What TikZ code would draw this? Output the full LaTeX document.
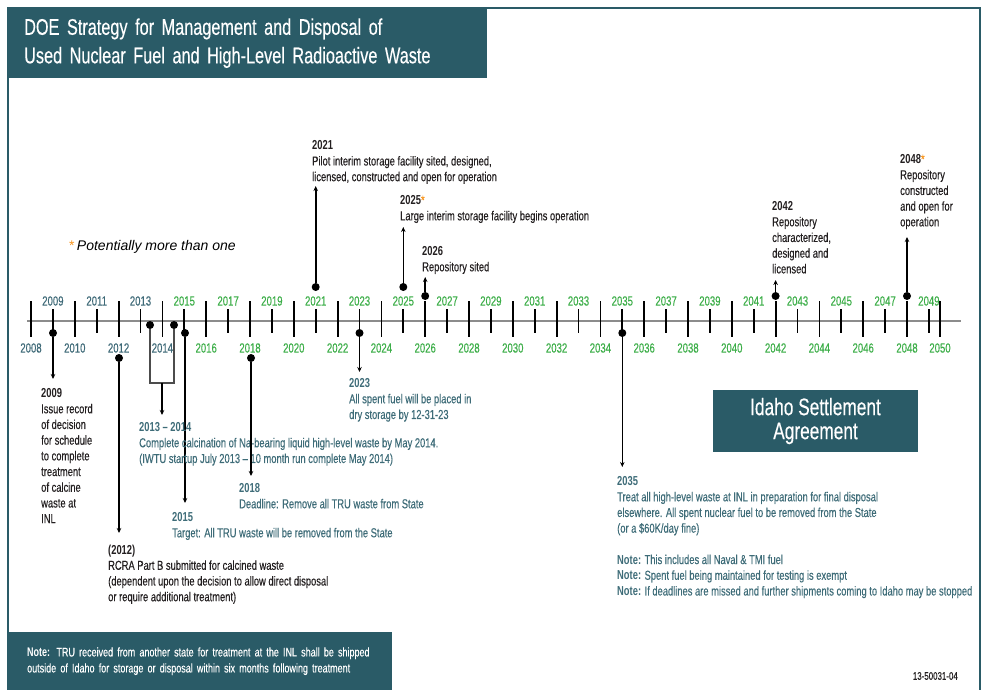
\documentclass[tikz,border=0pt]{standalone}
\usepackage{fontspec}
\setmainfont[FakeStretch=0.72,UprightFeatures={FakeBold=0.3}]{Liberation Sans}
\newfontfamily\plainsans{Liberation Sans}
\usetikzlibrary{arrows.meta}

\definecolor{tealbox}{RGB}{42,91,103}
\definecolor{tealtext}{RGB}{62,108,120}
\definecolor{yeargreen}{RGB}{61,174,73}
\definecolor{yearteal}{RGB}{63,106,120}
\definecolor{axisgray}{RGB}{140,140,140}
\definecolor{starorange}{RGB}{247,148,29}
\definecolor{inkblack}{RGB}{35,31,32}

\newcommand{\strs}{\textcolor{starorange}{*}}
\newcommand{\fsz}[2]{\fontsize{#1}{#2}\selectfont\spaceskip=.2em plus .1em minus .05em\relax}

\begin{document}
\begin{tikzpicture}
		[x=1pt,y=-1pt,
		dot/.style={circle,fill=black,inner sep=0pt,minimum size=8pt},
		stem/.style={line width=1.6pt,-{Stealth[length=5pt,width=4.5pt]}},
		tick/.style={line width=1.8pt},
		yrlabel/.style={inner sep=0pt,font=\fsz{13.3}{15}},
		evtext/.style={anchor=north west,inner sep=0pt,align=left,text=inkblack,font=\fsz{13}{15.7}},
		evteal/.style={evtext,text=tealtext},
		darkbox/.style={fill=tealbox,text=white,inner sep=0pt}]
		\useasboundingbox (0,0) rectangle (982,690);
		
		% frame and title
		\draw[tealbox,line width=1.5pt] (8,690) -- (8,8) -- (980,8) -- (980,690);
		\node[darkbox,anchor=north west,minimum width=479pt,minimum height=70pt,text width=447pt,align=left,font=\fsz{22.6}{28.5}] (title) at (8,8)
		{DOE Strategy for Management and Disposal of\\Used Nuclear Fuel and High-Level Radioactive Waste};
		
		% time line
		\coordinate (tl0) at (27,321);
		\coordinate (tl1) at (961,321);
		\draw[axisgray,line width=2pt] (tl0) -- (tl1);
		\foreach \yr [evaluate=\yr as \tx using {31+(\yr-2008)*21.9}] in {2008,...,2049}{
			\ifnum\yr<2015\relax \def\yc{yearteal}\else \def\yc{yeargreen}\fi
			\ifodd\yr\relax
				\draw[tick] (\tx,309) -- (\tx,333);
				\node[yrlabel,text=\yc] (y\yr) at (\tx,301) {\yr};
			\else
				\draw[tick] (\tx,301) -- (\tx,337);
				\node[yrlabel,text=\yc] (y\yr) at (\tx,348) {\yr};
			\fi
		}
		\draw[tick] (940,301) -- (940,337);
		\node[yrlabel,text=yeargreen] (y2050) at (940,348) {2050};
		
		\node[anchor=west,inner sep=0pt,font=\plainsans\fontsize{14}{16}\selectfont] (pmto) at (69,247) {\textcolor{starorange}{*}\,\textit{Potentially more than one}};
		
		% events above the line
		\node[dot] (d2021) at (315.7,287) {};
		\coordinate (a2021) at (315.7,186);
		\draw[stem] (d2021) -- (a2021);
		\node[evtext] (t2021) at (312,140.5) {\textbf{2021}\\Pilot interim storage facility sited, designed,\\licensed, constructed and open for operation};
		
		\node[dot] (d2025) at (403.3,287) {};
		\coordinate (a2025) at (403.3,227);
		\draw[stem] (d2025) -- (a2025);
		\node[evtext] (t2025) at (400,195.3) {\textbf{2025}\strs\\Large interim storage facility begins operation};
		
		\node[dot] (d2026) at (425.2,296) {};
		\coordinate (a2026) at (425.2,277);
		\draw[stem] (d2026) -- (a2026);
		\node[evtext] (t2026) at (422,246.3) {\textbf{2026}\\Repository sited};
		
		\node[dot] (d2042) at (775.6,296) {};
		\coordinate (a2042) at (775.6,280);
		\draw[stem] (d2042) -- (a2042);
		\node[evtext] (t2042) at (772,201.3) {\textbf{2042}\\Repository\\characterized,\\designed and\\licensed};
		
		\node[dot] (d2048) at (907,296) {};
		\coordinate (a2048) at (907,237);
		\draw[stem] (d2048) -- (a2048);
		\node[evtext] (t2048) at (900,154.3) {\textbf{2048}\strs\\Repository\\constructed\\and open for\\operation};
		
		% events below the line
		\node[dot] (d2009) at (53,333) {};
		\coordinate (a2009) at (53,379);
		\draw[stem] (d2009) -- (a2009);
		\node[evtext] (t2009) at (41,388.3) {\textbf{2009}\\Issue record\\of decision\\for schedule\\to complete\\treatment\\of calcine\\waste at\\INL};
		
		\node[dot] (d2012) at (119,358) {};
		\coordinate (a2012) at (119,533);
		\draw[stem] (d2012) -- (a2012);
		\node[evtext] (t2012) at (108,544.5) {\textbf{(2012)}\\RCRA Part B submitted for calcined waste\\(dependent upon the decision to allow direct disposal\\or require additional treatment)};
		
		\node[dot] (d2013) at (150,325) {};
		\node[dot] (d2014) at (174,325) {};
		\coordinate (b2013) at (150,383);
		\coordinate (b2014) at (174,383);
		\coordinate (bmid) at (162,383);
		\coordinate (a1314) at (162,415);
		\draw[black!70,line width=1.2pt] (d2013) -- (b2013) -- (b2014) -- (d2014);
		\draw[stem] (bmid) -- (a1314);
		
		\node[dot] (d2015) at (185,333) {};
		\coordinate (a2015) at (185,503);
		\draw[stem] (d2015) -- (a2015);
		\node[evteal] (t1314) at (139,422.3) {\textbf{2013 -- 2014}\\Complete calcination of Na-bearing liquid high-level waste by May 2014.\\(IWTU startup July 2013 -- 10 month run complete May 2014)};
		\node[evteal] (t2015) at (172,512.3) {\textbf{2015}\\Target: All TRU waste will be removed from the State};
		
		\node[dot] (d2018) at (251,358) {};
		\coordinate (a2018) at (251,476);
		\draw[stem] (d2018) -- (a2018);
		\node[evteal] (t2018) at (239,483.3) {\textbf{2018}\\Deadline: Remove all TRU waste from State};
		
		\node[dot] (d2023) at (359.5,333) {};
		\coordinate (a2023) at (359.5,372);
		\draw[stem] (d2023) -- (a2023);
		\node[evteal] (t2023) at (349,378.3) {\textbf{2023}\\All spent fuel will be placed in\\dry storage by 12-31-23};
		
		\node[dot] (d2035) at (622.3,333) {};
		\coordinate (a2035) at (622.3,467);
		\draw[stem] (d2035) -- (a2035);
		\node[evteal] (t2035) at (617,476.3) {\textbf{2035}\\Treat all high-level waste at INL in preparation for final disposal\\elsewhere. All spent nuclear fuel to be removed from the State\\(or a \$60K/day fine)\\[15.7pt]\textbf{Note:} This includes all Naval \& TMI fuel\\\textbf{Note:} Spent fuel being maintained for testing is exempt\\\textbf{Note:} If deadlines are missed and further shipments coming to Idaho may be stopped};
		
		% boxes
		\node[darkbox,minimum width=205pt,minimum height=62pt,align=center,font=\fsz{24}{24}] (isa) at (815.5,421) {Idaho Settlement\\Agreement};
		\node[darkbox,anchor=north west,minimum width=384pt,minimum height=58pt,text width=346pt,align=left,font=\fsz{12.5}{16}] (note) at (8,632)
		{\textbf{Note:} TRU received from another state for treatment at the INL shall be shipped\\outside of Idaho for storage or disposal within six months following treatment};
		\node[anchor=east,inner sep=0pt,text=inkblack,font=\fsz{11}{13}] (docno) at (958,676) {13-50031-04};
		\end{tikzpicture}
\end{document}
